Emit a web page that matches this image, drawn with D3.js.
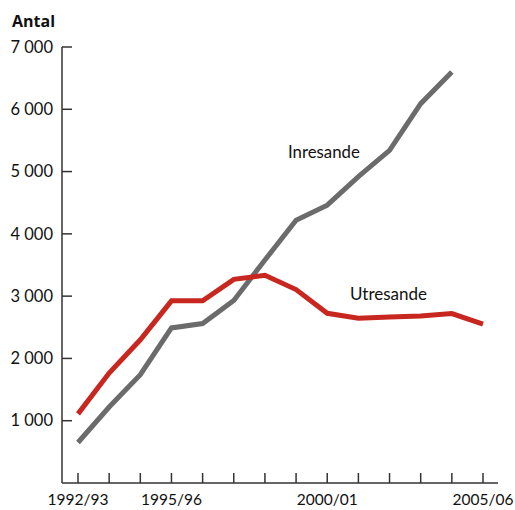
<!DOCTYPE html>
<html><head><meta charset="utf-8">
<script src="https://cdn.jsdelivr.net/npm/d3@7"></script>
<style>body{margin:0;background:#fff}svg text{font-family:Lato,"Open Sans",sans-serif;fill:#111}</style>
</head><body><svg id="c" width="515" height="510"></svg>
<script>
const years = ["1992/93","1993/94","1994/95","1995/96","1996/97","1997/98","1998/99","1999/00","2000/01","2001/02","2002/03","2003/04","2004/05","2005/06"];
const tickLabels = ["1992/93","1995/96","2000/01","2005/06"];
const inresande = [650,1220,1740,2490,2560,2930,3580,4220,4460,4920,5340,6090,6600,null];
const utresande = [1110,1765,2300,2925,2925,3270,3335,3105,2725,2645,2665,2680,2720,2550];
const yTicks = [1000,2000,3000,4000,5000,6000,7000];

const svg = d3.select("#c");
const x = d3.scalePoint().domain(years).range([78,483]);
const y = d3.scaleLinear().domain([0,7000]).range([483,47]);
const fmt = v => d3.format(",")(v).replace(",", " ");

svg.append("line").attr("x1",62).attr("x2",62).attr("y1",y(7000)).attr("y2",y(0)).attr("stroke","#333").attr("stroke-width",1.5);
svg.append("line").attr("x1",62).attr("x2",498).attr("y1",y(0)).attr("y2",y(0)).attr("stroke","#333").attr("stroke-width",1.5);

const yg = svg.append("g");
yg.selectAll("line").data(yTicks).join("line")
  .attr("x1",62).attr("x2",72).attr("y1",d=>y(d)).attr("y2",d=>y(d)).attr("stroke","#333").attr("stroke-width",1.5);
yg.selectAll("text").data(yTicks).join("text")
  .attr("x",53).attr("y",d=>y(d)).attr("dy","0.35em").attr("text-anchor","end")
  .attr("font-size",16.5).text(fmt);

svg.append("g").selectAll("line").data(years).join("line")
  .attr("x1",d=>x(d)).attr("x2",d=>x(d)).attr("y1",y(0)).attr("y2",y(0)-10).attr("stroke","#333").attr("stroke-width",1.5);
svg.append("g").selectAll("text").data(tickLabels).join("text")
  .attr("x",d=>x(d)).attr("y",505).attr("text-anchor","middle").attr("font-size",15.5).text(d=>d);

svg.append("text").attr("x",12).attr("y",27).attr("font-size",16).attr("font-weight","bold")
  .style("font-family","'Open Sans',sans-serif").text("Antal");

const line = d3.line().defined(d=>d[1]!=null).x(d=>x(d[0])).y(d=>y(d[1]));
svg.append("path").datum(years.map((yr,i)=>[yr,inresande[i]])).attr("d",line)
  .attr("fill","none").attr("stroke","#6b6b6b").attr("stroke-width",5);
svg.append("path").datum(years.map((yr,i)=>[yr,utresande[i]])).attr("d",line)
  .attr("fill","none").attr("stroke","#c8271f").attr("stroke-width",5);

svg.append("text").attr("x",288).attr("y",158).attr("font-size",16.8).text("Inresande");
svg.append("text").attr("x",350).attr("y",300).attr("font-size",17).text("Utresande");
</script></body></html>
